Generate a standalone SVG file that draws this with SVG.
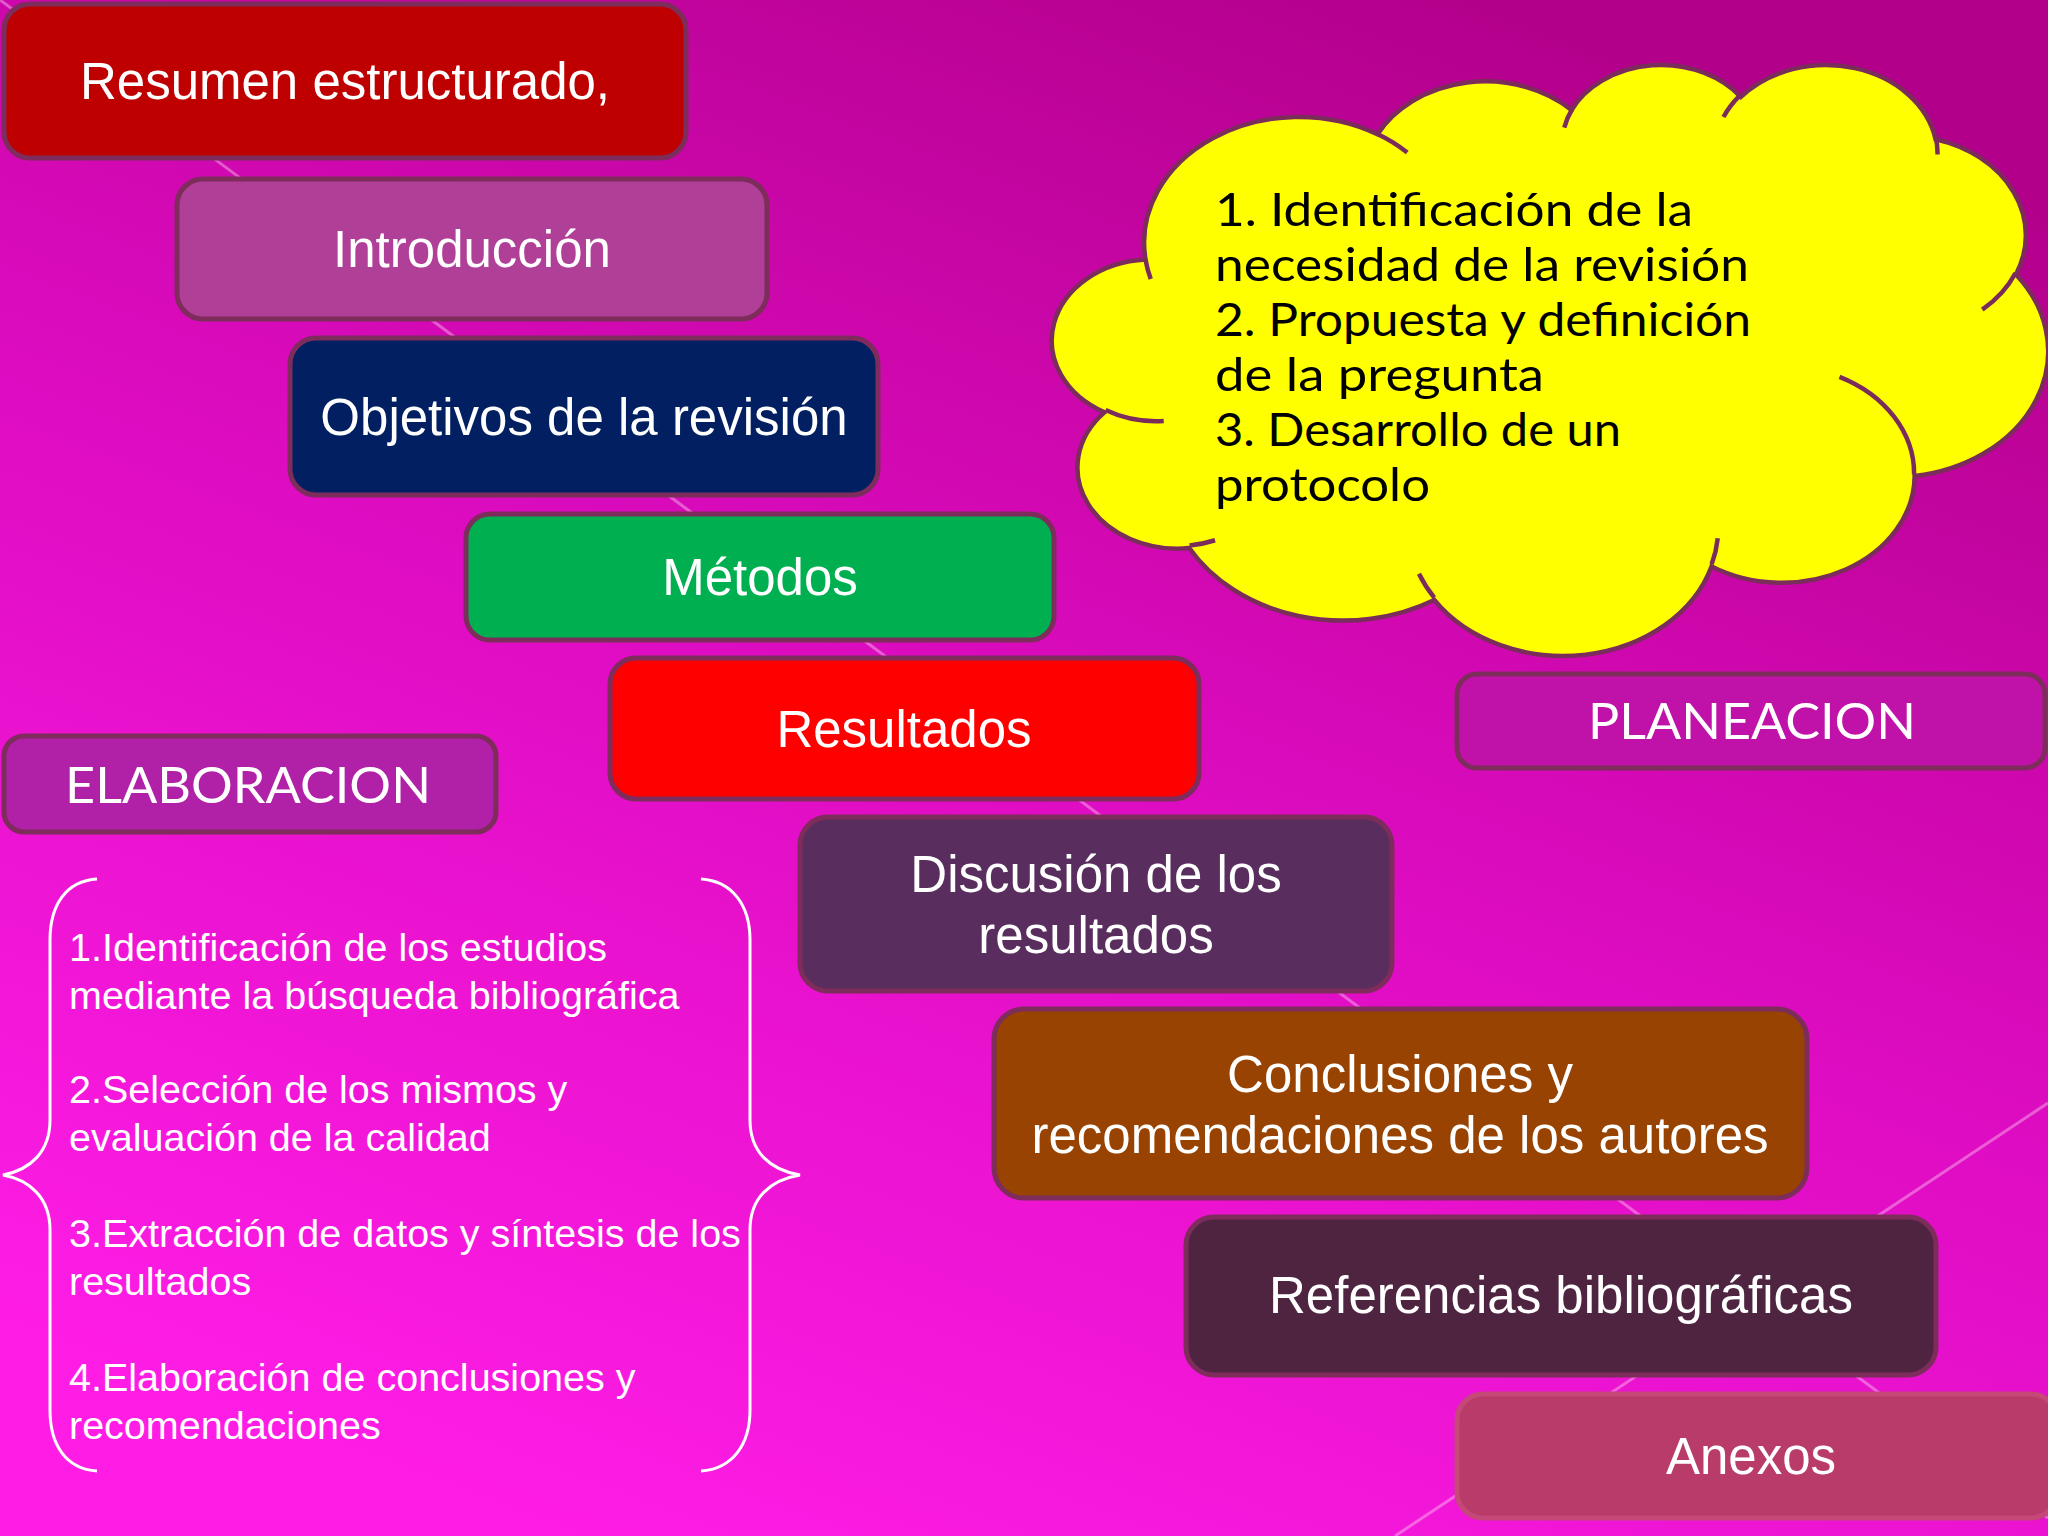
<svg xmlns="http://www.w3.org/2000/svg" width="2048" height="1536" viewBox="0 0 2048 1536">
  <defs>
    <linearGradient id="bg" x1="0.75" y1="0" x2="0.25" y2="1">
      <stop offset="0" stop-color="#b2008a"/>
      <stop offset="0.5" stop-color="#de0cc2"/>
      <stop offset="1" stop-color="#ff1de6"/>
    </linearGradient>
    <style>
      .box { stroke: #7e2c5c; stroke-width: 5; }
      .t { font-family: "Liberation Sans", Arial, sans-serif; font-size: 51px; fill: #ffffff; text-anchor: middle; }
      .g { font-family: Lato, "Open Sans", sans-serif; font-weight: 400; fill: #ffffff; font-size: 50px; }
      .c { font-family: Lato, "Open Sans", sans-serif; font-weight: 400; fill: #000000; font-size: 46px; }
      .l { font-family: "Liberation Sans", Arial, sans-serif; font-size: 39.5px; fill: #ffffff; }
      .deco { stroke: #ffd8f6; stroke-opacity: 0.4; stroke-width: 3; fill: none; }
      .brace { stroke: #ffffff; stroke-width: 3; fill: none; }
      .cloud { fill: #ffff00; stroke: #7a2c5a; stroke-width: 4.5; vector-effect: non-scaling-stroke; }
      .cin { fill: none; stroke: #7a2c5a; stroke-width: 4.5; vector-effect: non-scaling-stroke; }
    </style>
  </defs>

  <rect x="0" y="0" width="2048" height="1536" fill="url(#bg)"/>

  <g id="background-lines">
    <line class="deco" x1="0" y1="0" x2="2048" y2="1518"/>
    <line class="deco" x1="2048" y1="1103" x2="1395" y2="1536"/>
  </g>

  <g id="cloud">
    <g transform="translate(1056,63) scale(0.022956,0.013675)">
      <path class="cloud" d="M3900 14370 A6753 9190 0 0 1 14005.4 5202.5 A5333 7267 0 0 1 22456.7 3433.3 A4365 5945 0 0 1 29832.4 2480.9 A4857 6595 0 0 1 38316.3 5578.1 A5333 7273 0 0 1 41816.7 15461.5 A6775 9220 0 0 1 37404.4 30208 A5785 7867 0 0 1 28555.6 36817.9 A6752 9215 0 0 1 16479.2 39267.2 A7720 10543 0 0 1 5802.4 35470.8 A4360 5918 0 0 1 2111.8 25548 A4345 5945 0 0 1 3900 14370 Z"/>
      <path class="cin" d="M4693 26177 A4345 5945 0 0 1 2159.5 25379.8 M6928 34899 A4360 5918 0 0 1 5819.2 35280.7 M16478 39090 A6752 9215 0 0 1 15811.1 37351.4 M28827 34751 A6752 9215 0 0 1 28560.4 36660.1 M34129 22954 A5785 7867 0 0 1 37380 30089.3 M41798 15354 A5333 7273 0 0 1 40350.2 18030 M38324 5426 A4857 6595 0 0 1 38400.4 6689.6 M29078 3952 A4857 6595 0 0 1 29821 2338.4 M22141 4720 A4365 5945 0 0 1 22500.4 3328.9 M14000 5192 A6753 9190 0 0 1 15300.1 6540.8 M4127 15789 A6753 9190 0 0 1 3900.1 14369.7"/>
    </g>
    <text class="c" x="1215" y="226" textLength="478" lengthAdjust="spacingAndGlyphs">1. Identificación de la</text>
    <text class="c" x="1215" y="281" textLength="534" lengthAdjust="spacingAndGlyphs">necesidad de la revisión</text>
    <text class="c" x="1215" y="336" textLength="536" lengthAdjust="spacingAndGlyphs">2. Propuesta y definición</text>
    <text class="c" x="1215" y="391" textLength="329" lengthAdjust="spacingAndGlyphs">de la pregunta</text>
    <text class="c" x="1215" y="446" textLength="406" lengthAdjust="spacingAndGlyphs">3. Desarrollo de un</text>
    <text class="c" x="1215" y="501" textLength="215" lengthAdjust="spacingAndGlyphs">protocolo</text>
  </g>

  <g id="resumen">
    <rect class="box" x="4" y="4" width="682" height="154" rx="26" fill="#be0000"/>
    <text class="t" x="345" y="99">Resumen estructurado,</text>
  </g>
  <g id="introduccion">
    <rect class="box" x="177" y="179" width="590" height="140" rx="26" fill="#b03f98"/>
    <text class="t" x="472" y="267">Introducción</text>
  </g>
  <g id="objetivos">
    <rect class="box" x="290" y="338" width="588" height="157" rx="26" fill="#022061"/>
    <text class="t" x="584" y="435">Objetivos de la revisión</text>
  </g>
  <g id="metodos">
    <rect class="box" x="466" y="514" width="588" height="126" rx="24" fill="#00b050"/>
    <text class="t" x="760" y="595">Métodos</text>
  </g>
  <g id="resultados">
    <rect class="box" x="610" y="658" width="589" height="141" rx="26" fill="#ff0000"/>
    <text class="t" x="904" y="747">Resultados</text>
  </g>
  <g id="discusion">
    <rect class="box" x="800" y="817" width="592" height="174" rx="28" fill="#592d5e"/>
    <text class="t" x="1096" y="892">Discusión de los</text>
    <text class="t" x="1096" y="953">resultados</text>
  </g>
  <g id="conclusiones">
    <rect class="box" x="994" y="1009" width="813" height="189" rx="30" fill="#984301"/>
    <text class="t" x="1400" y="1092">Conclusiones y</text>
    <text class="t" x="1400" y="1153">recomendaciones de los autores</text>
  </g>
  <g id="referencias">
    <rect class="box" x="1186" y="1217" width="750" height="158" rx="28" fill="#4e2440"/>
    <text class="t" x="1561" y="1313">Referencias bibliográficas</text>
  </g>
  <g id="anexos">
    <rect x="1457" y="1394" width="600" height="124" rx="26" fill="#b93b69" stroke="#c44878" stroke-width="5"/>
    <text class="t" x="1751" y="1474">Anexos</text>
  </g>

  <g id="planeacion">
    <rect class="box" x="1457" y="674" width="588" height="94" rx="20" fill="#c012a8"/>
    <text class="g" x="1588" y="739" textLength="328" lengthAdjust="spacingAndGlyphs">PLANEACION</text>
  </g>
  <g id="elaboracion">
    <rect class="box" x="4" y="736" width="492" height="96" rx="20" fill="#b121a8"/>
    <text class="g" x="65" y="803" textLength="366" lengthAdjust="spacingAndGlyphs">ELABORACION</text>
  </g>

  <g id="elaboracion-steps">
    <path class="brace" d="M97 879 C66 881 50 905 50 940 L50 1120 C50 1152 30 1170 3 1175 C30 1180 50 1198 50 1230 L50 1410 C50 1445 66 1469 97 1471"/>
    <path class="brace" d="M701 879 C732 881 750 905 750 940 L750 1120 C750 1152 770 1170 800 1175 C770 1180 750 1198 750 1230 L750 1410 C750 1445 732 1469 701 1471"/>
    <text class="l" x="69" y="961">1.Identificación de los estudios</text>
    <text class="l" x="69" y="1009">mediante la búsqueda bibliográfica</text>
    <text class="l" x="69" y="1103">2.Selección de los mismos y</text>
    <text class="l" x="69" y="1151">evaluación de la calidad</text>
    <text class="l" x="69" y="1247">3.Extracción de datos y síntesis de los</text>
    <text class="l" x="69" y="1295">resultados</text>
    <text class="l" x="69" y="1391">4.Elaboración de conclusiones y</text>
    <text class="l" x="69" y="1439">recomendaciones</text>
  </g>
</svg>
